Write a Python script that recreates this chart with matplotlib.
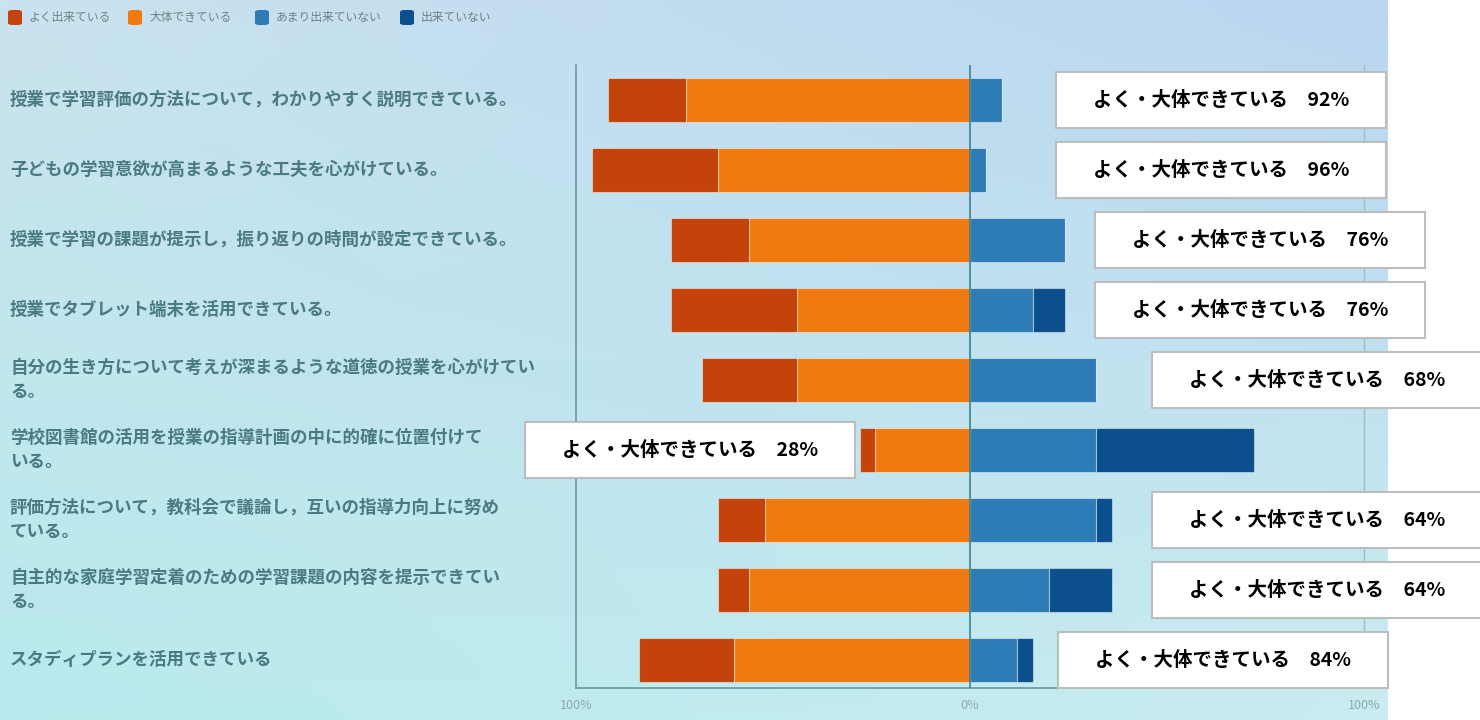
import numpy as np
import matplotlib
matplotlib.use("Agg")
import matplotlib.pyplot as plt
from matplotlib.patches import Rectangle, FancyBboxPatch
from matplotlib.transforms import blended_transform_factory

plt.rcParams['font.family'] = ['Noto Sans CJK JP', 'DejaVu Sans']

# ---- data (percent of respondents) ----
questions = [
    "授業で学習評価の方法について，わかりやすく説明できている。",
    "子どもの学習意欲が高まるような工夫を心がけている。",
    "授業で学習の課題が提示し，振り返りの時間が設定できている。",
    "授業でタブレット端末を活用できている。",
    "自分の生き方について考えが深まるような道徳の授業を心がけてい\nる。",
    "学校図書館の活用を授業の指導計画の中に的確に位置付けて\nいる。",
    "評価方法について，教科会で議論し，互いの指導力向上に努め\nている。",
    "自主的な家庭学習定着のための学習課題の内容を提示できてい\nる。",
    "スタディプランを活用できている",
]
yoku = [20, 32, 20, 32, 24, 4, 12, 8, 24]          # よく出来ている
daitai = [72, 64, 56, 44, 44, 24, 52, 56, 60]      # 大体できている
amari = [8, 4, 24, 16, 32, 32, 32, 20, 12]         # あまり出来ていない
dekinai = [0, 0, 0, 8, 0, 40, 4, 16, 4]            # 出来ていない
positive = [92, 96, 76, 76, 68, 28, 64, 64, 84]    # よく・大体 合計

legend_labels = ["よく出来ている", "大体できている", "あまり出来ていない", "出来ていない"]
colors = ["#C4430B", "#F07A10", "#2E7CB6", "#0B4F8C"]

# where each comment box starts (in % units of the x axis)
box_left = [21.8, 21.8, 31.7, 31.7, 46.2, -113.0, 46.2, 46.2, 22.3]

W, H = 1480, 720
fig = plt.figure(figsize=(W / 100, H / 100), dpi=100)

# background gradient (top-right blue -> bottom-left cyan)
bg = fig.add_axes([0, 0, 1388 / W, 1], zorder=-10)
gx, gy = np.meshgrid(np.linspace(0, 1, 200), np.linspace(0, 1, 100))
tl = np.array([0xCA, 0xE3, 0xEF]) / 255
tr = np.array([0xBA, 0xD6, 0xF0]) / 255
bl = np.array([0xB8, 0xEA, 0xEE]) / 255
br = np.array([0xC8, 0xEC, 0xF0]) / 255
img = ((1 - gx)[..., None] * (1 - gy)[..., None] * tl + gx[..., None] * (1 - gy)[..., None] * tr
       + (1 - gx)[..., None] * gy[..., None] * bl + gx[..., None] * gy[..., None] * br)
bg.imshow(img, aspect='auto', extent=[0, 1, 0, 1], origin='upper')
bg.axis('off')

ax = fig.add_axes([576 / W, 1 - 688 / H, (1364 - 576) / W, (688 - 65) / H])
ax.patch.set_alpha(0)

y = np.arange(len(questions))
yoku = np.array(yoku)
daitai = np.array(daitai)
amari = np.array(amari)
dekinai = np.array(dekinai)
bh = 0.63
ec = (1, 1, 1, 0.45)
ax.barh(y, -daitai, height=bh, color=colors[1], edgecolor=ec, linewidth=0.8)
ax.barh(y, -yoku, left=-daitai, height=bh, color=colors[0], edgecolor=ec, linewidth=0.8)
ax.barh(y, amari, height=bh, color=colors[2], edgecolor=ec, linewidth=0.8)
ax.barh(y, dekinai, left=amari, height=bh, color=colors[3], edgecolor=ec, linewidth=0.8)

ax.axvline(0, color="#2B7D8A", lw=1.1, zorder=3)

ax.set_xlim(-100, 100)
ax.set_ylim(8.4, -0.5)
ax.set_yticks([])
ax.set_xticks([-100, 0, 100])
ax.set_xticklabels(["100%", "0%", "100%"])
ax.tick_params(axis='x', length=0, pad=8, labelsize=9, labelcolor="#8FA9AE")
for side in ["left", "bottom"]:
    ax.spines[side].set_color("#6E9EA4")
    ax.spines[side].set_linewidth(1.3)
ax.spines["right"].set_color("#9DBFC4")
ax.spines["right"].set_linewidth(1.0)
ax.spines["top"].set_visible(False)

# question labels on the left
lab_tr = blended_transform_factory(fig.transFigure, ax.transData)
for i, q in enumerate(questions):
    ax.text(10 / W, i, q, transform=lab_tr, ha='left', va='center',
            fontsize=12.6, fontweight='bold', color="#4A7B80", linespacing=1.5)

# comment boxes
px = 200 / (1364 - 576)          # % per pixel
box_w = 330 * px
for i in range(len(questions)):
    r = Rectangle((box_left[i], i - 0.4), box_w, 0.8, facecolor="white",
                  edgecolor="#BDBDBD", linewidth=1.5, clip_on=False, zorder=5)
    ax.add_patch(r)
    ax.text(box_left[i] + box_w / 2, i, f"よく・大体できている　{positive[i]}%",
            ha='center', va='center', fontsize=14, fontweight='bold', color="black",
            clip_on=False, zorder=6)

# legend
leg_x = [8, 128, 255, 400]
for lx, lab, c in zip(leg_x, legend_labels, colors):
    fig.patches.append(FancyBboxPatch((lx / W, 1 - 25 / H), 14 / W, 15 / H,
                                      boxstyle="round,pad=0,rounding_size=0.003",
                                      transform=fig.transFigure, facecolor=c,
                                      edgecolor='none'))
    fig.text((lx + 21) / W, 1 - 17 / H, lab, ha='left', va='center',
             fontsize=8.5, color="#6F7F84")

fig.savefig("out.png", dpi=100)
